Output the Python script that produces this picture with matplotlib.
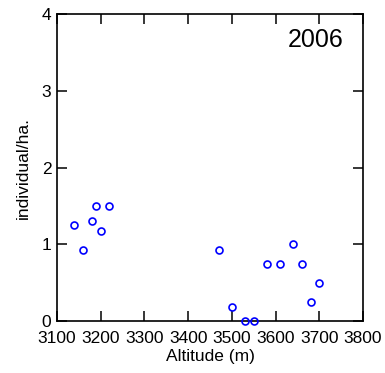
import matplotlib
matplotlib.use("Agg")
import matplotlib.pyplot as plt

plt.rcParams['font.family'] = ['Liberation Sans', 'DejaVu Sans']

# altitude (m) and density (individual/ha.)
altitude = [3140, 3160, 3180, 3190, 3200, 3220,
            3470, 3500, 3530, 3550, 3580, 3610, 3640, 3660, 3680, 3700]
density = [1.25, 0.93, 1.30, 1.50, 1.18, 1.50,
           0.93, 0.18, 0.0, 0.0, 0.75, 0.75, 1.0, 0.75, 0.25, 0.5]
xticks = [3100, 3200, 3300, 3400, 3500, 3600, 3700, 3800]
yticks = [0, 1, 2, 3, 4]

fig = plt.figure(figsize=(3.85, 3.73), dpi=100)
ax = fig.add_axes([0.148, 0.139, 0.795, 0.823])

ax.plot(altitude, density, 'o', mfc='none', mec='blue', ms=5, mew=1.2,
        clip_on=False, zorder=3)

ax.set_xlim(3100, 3800)
ax.set_ylim(0, 4)
ax.set_xticks(xticks)
ax.set_yticks(yticks)
ax.tick_params(direction='in', length=7, width=1.1, top=True, right=True,
               labelsize=12.5)
ax.tick_params(axis='x', pad=7)
ax.tick_params(axis='y', pad=4)
for s in ax.spines.values():
    s.set_linewidth(1.2)

ax.set_xlabel('Altitude (m)', fontsize=12.5, labelpad=2)
ax.set_ylabel('individual/ha.', fontsize=12.5, labelpad=8)
ax.text(0.935, 0.955, '2006', transform=ax.transAxes, ha='right', va='top',
        fontsize=18)

fig.savefig('out.png', dpi=100)
